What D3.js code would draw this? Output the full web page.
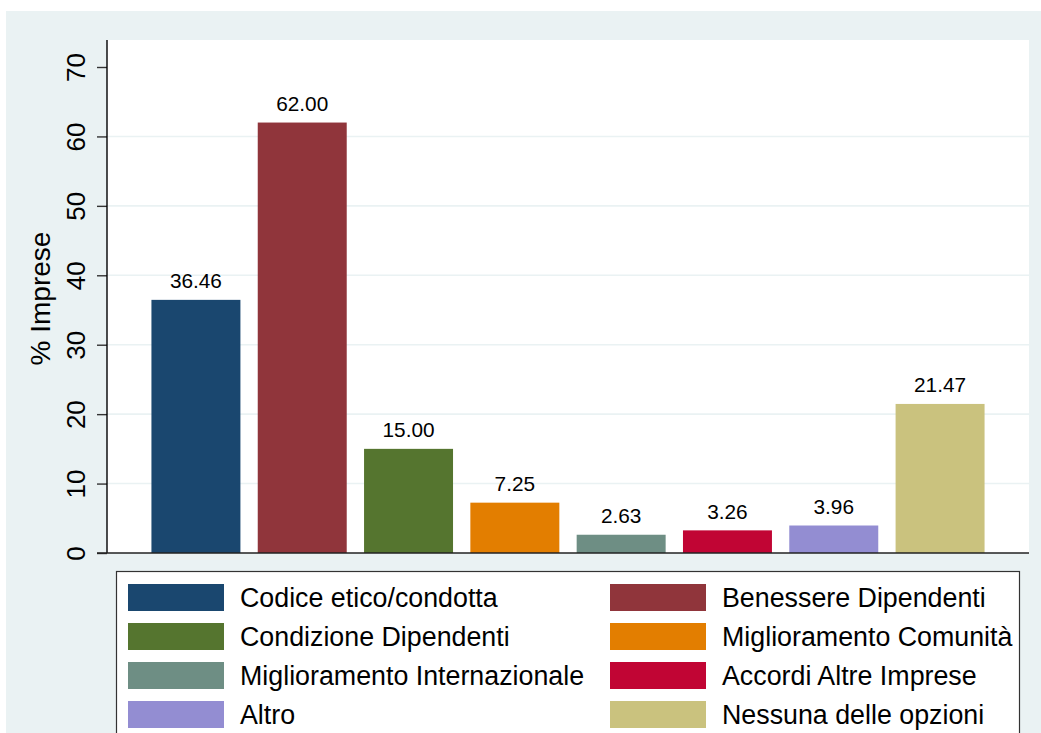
<!DOCTYPE html>
<html><head><meta charset="utf-8">
<script src="https://cdn.jsdelivr.net/npm/d3@7"></script>
<style>body{margin:0;background:#fff;}svg{display:block;font-family:"Liberation Sans",Arial,Helvetica,sans-serif;}</style>
</head><body>
<svg id="c" width="1041" height="733"></svg>
<script>
const categories = ["Codice etico/condotta","Benessere Dipendenti","Condizione Dipendenti","Miglioramento Comunità","Miglioramento Internazionale","Accordi Altre Imprese","Altro","Nessuna delle opzioni"];
const values = [36.46, 62.00, 15.00, 7.25, 2.63, 3.26, 3.96, 21.47];
const colors = ["#1a476f","#90353b","#55752f","#e37e00","#6e8e84","#c10534","#938dd2","#cac27e"];
const yTicks = [0,10,20,30,40,50,60,70];
const yTitle = "% Imprese";

const svg = d3.select("#c");
// graph background
svg.append("rect").attr("x",6).attr("y",11).attr("width",1035).attr("height",722).attr("fill","#eaf2f3");
const L=107,R=1029,T=40,B=553;
svg.append("rect").attr("x",L).attr("y",T).attr("width",R-L).attr("height",B-T).attr("fill","#fff");

const y = d3.scaleLinear().domain([0,70]).range([B,67]);
const x = d3.scaleBand().domain(categories).range([L,R]).paddingInner(0.163).paddingOuter(0.418);

// gridlines
svg.append("g").selectAll("line").data(yTicks.filter(t=>t>0&&t<70)).join("line")
  .attr("x1",L).attr("x2",R).attr("y1",d=>y(d)).attr("y2",d=>y(d))
  .attr("stroke","#eaf2f3").attr("stroke-width",1.6);

// bars
svg.append("g").selectAll("rect").data(values).join("rect")
  .attr("x",(d,i)=>x(categories[i])).attr("width",x.bandwidth())
  .attr("y",d=>y(d)).attr("height",d=>B-y(d))
  .attr("fill",(d,i)=>colors[i]);

// bar labels
svg.append("g").selectAll("text").data(values).join("text")
  .attr("x",(d,i)=>x(categories[i])+x.bandwidth()/2)
  .attr("y",d=>y(d)-11.5)
  .attr("text-anchor","middle").attr("font-size",20.8).attr("fill","#000")
  .text(d=>d.toFixed(2));

// y axis
const ya = svg.append("g").attr("transform",`translate(${L},0)`)
  .call(d3.axisLeft(y).tickValues(yTicks).tickSize(10).tickPadding(0).tickFormat(d3.format("d")));
ya.select(".domain").remove();
ya.selectAll(".tick line").attr("stroke","#333").attr("stroke-width",1.4);
ya.selectAll(".tick text").attr("font-size",26).attr("fill","#000")
  .attr("text-anchor","middle").attr("dy",null)
  .attr("transform","translate(-22,0) rotate(-90)").attr("x",0).attr("y",0);
svg.append("line").attr("x1",L).attr("x2",L).attr("y1",T).attr("y2",B).attr("stroke","#000").attr("stroke-width",1.4);
svg.append("line").attr("x1",97).attr("x2",R).attr("y1",B).attr("y2",B).attr("stroke","#222").attr("stroke-width",1.6);

// y title
svg.append("text").attr("transform",`translate(50,${(T+B)/2+2}) rotate(-90)`)
  .attr("text-anchor","middle").attr("font-size",28).attr("fill","#000").text(yTitle);

// legend
const lg = svg.append("g");
lg.append("rect").attr("x",116.5).attr("y",571.5).attr("width",903).attr("height",200).attr("fill","#fff").attr("stroke","#333").attr("stroke-width",1.2);
const colX=[128,610];
categories.forEach((c,i)=>{
  const col=i%2,row=Math.floor(i/2);
  const sy=584+row*39;
  lg.append("rect").attr("x",colX[col]).attr("y",sy).attr("width",96).attr("height",27).attr("fill",colors[i]);
  lg.append("text").attr("x",colX[col]+112).attr("y",sy+23).attr("font-size",26.8).attr("fill","#000").text(c);
});
</script>
</body></html>
